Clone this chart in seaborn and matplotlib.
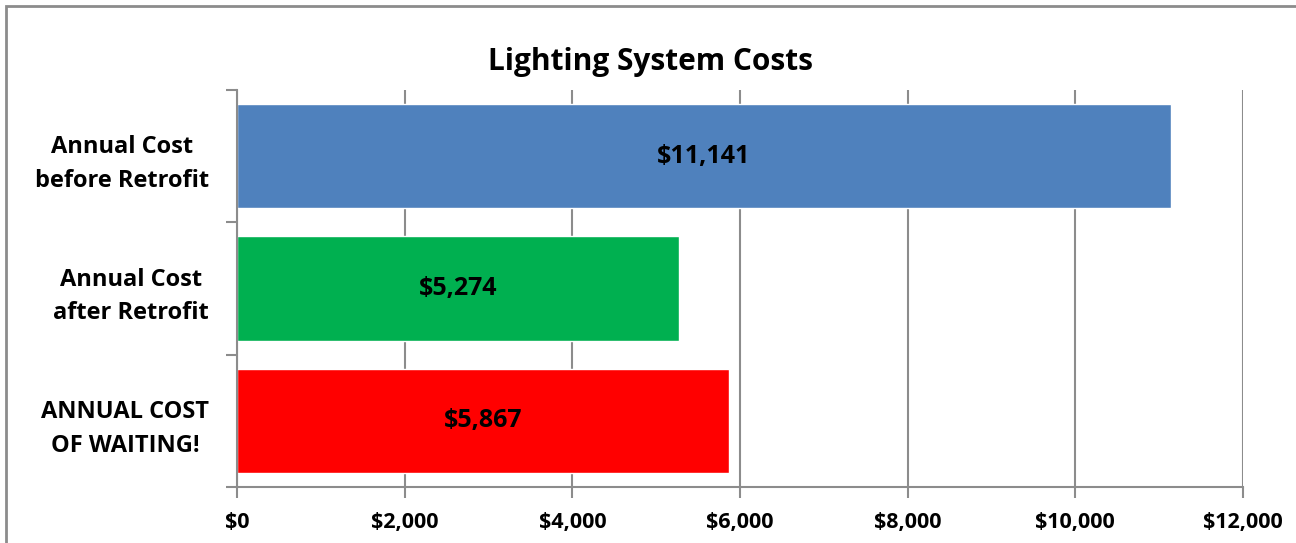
import matplotlib
matplotlib.use("Agg")
import matplotlib.pyplot as plt
import matplotlib.ticker as mticker
from matplotlib.patches import Rectangle
import seaborn as sns

categories = ["Annual Cost\nbefore Retrofit", "Annual Cost\nafter Retrofit", "ANNUAL COST\nOF WAITING!"]
costs = [11141, 5274, 5867]
bar_colors = ["#4F81BD", "#00B050", "#FF0000"]
x_ticks = [0, 2000, 4000, 6000, 8000, 10000, 12000]

sns.set_style("white")
plt.rcParams["font.family"] = ["Open Sans", "DejaVu Sans"]
plt.rcParams["font.weight"] = "bold"
plt.rcParams["text.color"] = "black"

W, H = 1296, 543
fig = plt.figure(figsize=(W / 100, H / 100), dpi=100)
ax = fig.add_axes([237 / W, 1 - 487 / H, (1243 - 237) / W, (487 - 90) / H])

sns.barplot(x=costs, y=categories, hue=categories, palette=bar_colors,
            legend=False, width=0.79, ax=ax, orient="h", saturation=1)

grid_c = "#8C8C8C"
ax.set_xlim(0, 12000)
ax.set_ylim(2.5, -0.5)
ax.set_xticks(x_ticks)
ax.xaxis.set_major_formatter(mticker.FuncFormatter(lambda v, p: f"${v:,.0f}"))
ax.grid(axis="x", color=grid_c, linewidth=1.5)
ax.set_axisbelow(True)
for s in ["top", "right"]:
    ax.spines[s].set_visible(False)
for s in ["left", "bottom"]:
    ax.spines[s].set_color(grid_c)
    ax.spines[s].set_linewidth(1.5)

# y ticks at the boundaries between categories
ax.set_yticks([-0.5, 0.5, 1.5, 2.5], minor=True)
ax.tick_params(axis="y", which="major", left=False, length=0, pad=20)
ax.tick_params(axis="y", which="minor", left=True, length=8, width=1.5, color=grid_c, direction="out")
ax.tick_params(axis="x", which="major", bottom=True, length=8, width=1.5, color=grid_c, direction="out", pad=10)
ax.tick_params(labelsize=15.5, labelcolor="black")
for lab in ax.get_yticklabels():
    lab.set_fontweight("bold")
    lab.set_multialignment("center")
    lab.set_linespacing(1.55)
    lab.set_fontsize(17)
for lab in ax.get_xticklabels():
    lab.set_fontweight("bold")

ax.set_xlabel("")
ax.set_ylabel("")

for i, v in enumerate(costs):
    ax.text(v / 2, i, f"${v:,}", ha="center", va="center",
            fontsize=18, fontweight="bold", color="black")

fig.text((487 + 815) / 2 / W, 1 - 62 / H, "Lighting System Costs", ha="center", va="center",
         fontsize=21.5, fontweight="bold", color="black")

# chart area border
fig.patches.append(Rectangle((6 / W, -0.05), 1.2, 1 - 6 / H + 0.05, transform=fig.transFigure,
                             fill=False, edgecolor="#8C8C8C", linewidth=2, figure=fig))

fig.savefig("out.png", dpi=100)
